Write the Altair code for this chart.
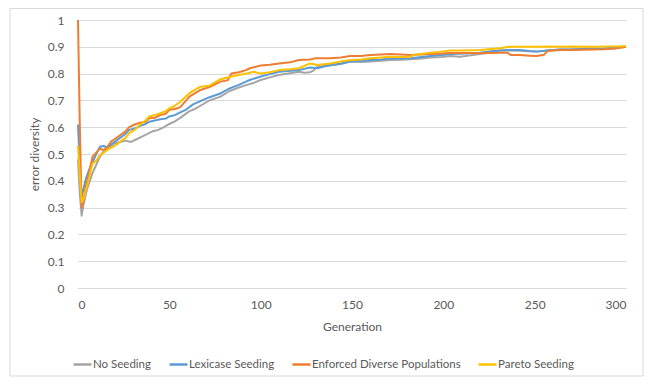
import altair as alt
import pandas as pd

series_names = ["No Seeding", "Lexicase Seeding", "Enforced Diverse Populations", "Pareto Seeding"]
series_colors = ["#A5A5A5", "#5B9BD5", "#ED7D31", "#FFC000"]

gray_gen = [0, 1, 2, 3, 4, 5, 6, 7, 8, 10, 12, 14, 16, 18, 20, 23, 26, 29, 32, 35, 38, 41, 44, 47, 50, 53, 56,
            61, 64, 67, 72, 78, 83, 88, 92, 96, 100, 105, 110, 115, 121, 124, 127, 129, 131, 138, 144, 149, 155,
            160, 166, 171, 177, 182, 188, 193, 199, 204, 209, 215, 220, 226, 231, 237, 242, 247, 251, 257, 264,
            270, 276, 282, 288, 293, 298, 300]
gray_val = [0.48, 0.35, 0.27, 0.31, 0.34, 0.37, 0.39, 0.41, 0.43, 0.46, 0.49, 0.51, 0.52, 0.53, 0.54, 0.545,
            0.55, 0.545, 0.555, 0.565, 0.575, 0.585, 0.59, 0.60, 0.612, 0.622, 0.635,
            0.66, 0.668, 0.68, 0.70, 0.714, 0.735, 0.748, 0.757, 0.765, 0.776, 0.786, 0.795, 0.80, 0.807, 0.803,
            0.805, 0.812, 0.826, 0.83, 0.836, 0.845, 0.843, 0.845, 0.848, 0.851, 0.852, 0.854, 0.856, 0.86, 0.862,
            0.866, 0.863, 0.868, 0.873, 0.88, 0.886, 0.886, 0.885, 0.883, 0.882, 0.886, 0.89, 0.89, 0.892,
            0.893, 0.894, 0.896, 0.9, 0.9]

blue_gen = [0, 1, 2, 3, 4, 5, 6, 8, 10, 12, 14, 16, 18, 20, 23, 26, 28, 31, 34, 37, 39, 42, 45, 48, 50, 53, 56,
            59, 63, 67, 72, 78, 83, 88, 92, 94, 100, 105, 110, 115, 121, 127, 131, 138, 144, 149, 155, 160, 166,
            171, 177, 182, 188, 193, 199, 204, 213, 220, 226, 231, 236, 242, 247, 251, 257, 264, 270, 276, 282,
            288, 293, 298, 300]
blue_val = [0.61, 0.45, 0.34, 0.37, 0.40, 0.42, 0.44, 0.47, 0.50, 0.527, 0.53, 0.525, 0.535, 0.545, 0.56, 0.575,
            0.59, 0.595, 0.605, 0.612, 0.62, 0.625, 0.63, 0.632, 0.64, 0.645, 0.655,
            0.665, 0.685, 0.697, 0.712, 0.726, 0.745, 0.758, 0.77, 0.776, 0.789, 0.798, 0.807, 0.81, 0.813, 0.823,
            0.82, 0.832, 0.838, 0.845, 0.848, 0.851, 0.853, 0.857, 0.856, 0.857, 0.862, 0.866, 0.869, 0.873,
            0.875, 0.878, 0.883, 0.886, 0.888, 0.888, 0.884, 0.882, 0.886, 0.89, 0.89, 0.892, 0.893, 0.894,
            0.896, 0.9, 0.9]

orange_gen = [0, 1, 2, 3, 4, 5, 6, 7, 8, 10, 12, 14, 16, 18, 20, 23, 26, 28, 31, 34, 37, 39, 42, 45, 48, 50, 53,
              56, 61, 67, 72, 78, 82, 84, 88, 92, 94, 100, 105, 110, 116, 121, 127, 130, 138, 144, 149, 155, 160,
              166, 171, 177, 182, 188, 193, 199, 204, 213, 220, 226, 231, 235, 237, 242, 247, 251, 255, 257, 264,
              270, 276, 282, 288, 293, 298, 300]
orange_val = [1.0, 0.6, 0.30, 0.33, 0.37, 0.40, 0.43, 0.46, 0.49, 0.505, 0.52, 0.515, 0.525, 0.546, 0.555, 0.57,
              0.585, 0.60, 0.61, 0.617, 0.62, 0.633, 0.635, 0.645, 0.65, 0.665, 0.668,
              0.675, 0.714, 0.739, 0.75, 0.77, 0.775, 0.80, 0.805, 0.813, 0.82, 0.83, 0.833, 0.838, 0.842, 0.851,
              0.853, 0.857, 0.857, 0.86, 0.866, 0.866, 0.869, 0.871, 0.873, 0.871, 0.869, 0.871, 0.873, 0.875,
              0.877, 0.877, 0.876, 0.877, 0.878, 0.878, 0.869, 0.869, 0.867, 0.866, 0.870, 0.884, 0.888, 0.888,
              0.889, 0.89, 0.891, 0.893, 0.897, 0.9]

yellow_gen = [0, 1, 2, 3, 4, 5, 6, 8, 10, 12, 14, 17, 20, 23, 26, 28, 31, 34, 37, 39, 42, 45, 48, 50, 53, 56,
              61, 67, 72, 78, 84, 92, 96, 100, 105, 110, 116, 121, 127, 131, 138, 144, 149, 155, 160, 166, 171,
              177, 182, 184, 193, 199, 204, 209, 215, 220, 226, 231, 236, 242, 251, 257, 264, 270, 282, 290, 298,
              300]
yellow_val = [0.53, 0.42, 0.32, 0.33, 0.36, 0.38, 0.41, 0.465, 0.475, 0.496, 0.505, 0.52, 0.53, 0.546, 0.56,
              0.578, 0.59, 0.61, 0.625, 0.64, 0.645, 0.652, 0.66, 0.67, 0.68, 0.695,
              0.727, 0.751, 0.755, 0.779, 0.789, 0.80, 0.807, 0.80, 0.805, 0.813, 0.816, 0.82, 0.838, 0.832, 0.838,
              0.845, 0.851, 0.853, 0.857, 0.86, 0.863, 0.862, 0.863, 0.87, 0.878, 0.882, 0.886, 0.886, 0.887,
              0.888, 0.892, 0.895, 0.90, 0.90, 0.90, 0.901, 0.90, 0.901, 0.90, 0.901, 0.902, 0.903]

x_ticks = [0, 50, 100, 150, 200, 250, 300]
y_ticks = [0, 0.1, 0.2, 0.3, 0.4, 0.5, 0.6, 0.7, 0.8, 0.9, 1.0]

frames = []
for i, (g, v) in enumerate([(gray_gen, gray_val), (blue_gen, blue_val), (orange_gen, orange_val), (yellow_gen, yellow_val)]):
    frames.append(pd.DataFrame({"Generation": g, "value": v, "series": series_names[i], "ord": i}))
df = pd.concat(frames, ignore_index=True)

W, H = 548, 268
TXT = "#595959"
GRID = "#D9D9D9"

lines = alt.Chart(df).mark_line(strokeWidth=2, strokeJoin="round").encode(
    x=alt.X("Generation:Q", scale=alt.Scale(domain=[0, 300], nice=False),
            axis=alt.Axis(values=x_ticks, title="Generation", grid=False, domain=True, domainColor=GRID,
                          ticks=False, labelPadding=11, titlePadding=11, labelColor=TXT, titleColor=TXT,
                          labelFontSize=12, titleFontSize=12, titleFontWeight="normal")),
    y=alt.Y("value:Q", scale=alt.Scale(domain=[0, 1], nice=False),
            axis=alt.Axis(values=y_ticks, format=".1~f", title="error diversity", grid=True, gridColor=GRID,
                          domain=False, ticks=False, labelPadding=14, titlePadding=6, labelColor=TXT,
                          titleColor=TXT, labelFontSize=12, titleFontSize=12, titleFontWeight="normal")),
    color=alt.Color("series:N", scale=alt.Scale(domain=series_names, range=series_colors),
                    legend=alt.Legend(title=None, orient="none", direction="horizontal", legendX=-6, legendY=334,
                                      symbolType="stroke", symbolSize=324, symbolStrokeWidth=2.5,
                                      labelFontSize=11.5, labelColor=TXT, columnPadding=12, labelOffset=0,
                                      labelLimit=300)),
    detail="ord:O",
    order="Generation:Q",
)

border = alt.Chart(pd.DataFrame({"a": [0]})).mark_rect(fill=None, stroke=GRID, strokeWidth=1).encode(
    x=alt.value(-68), x2=alt.value(565), y=alt.value(-11.5), y2=alt.value(356)
)

chart = alt.layer(border, lines).properties(
    width=W, height=H,
    autosize=alt.AutoSizeParams(type="none"),
    padding={"left": 70, "top": 12, "right": 18, "bottom": 89},
).configure(font="Lato").configure_view(stroke=None)

chart.save("out.html", embed_options={"renderer": "svg", "actions": False})
